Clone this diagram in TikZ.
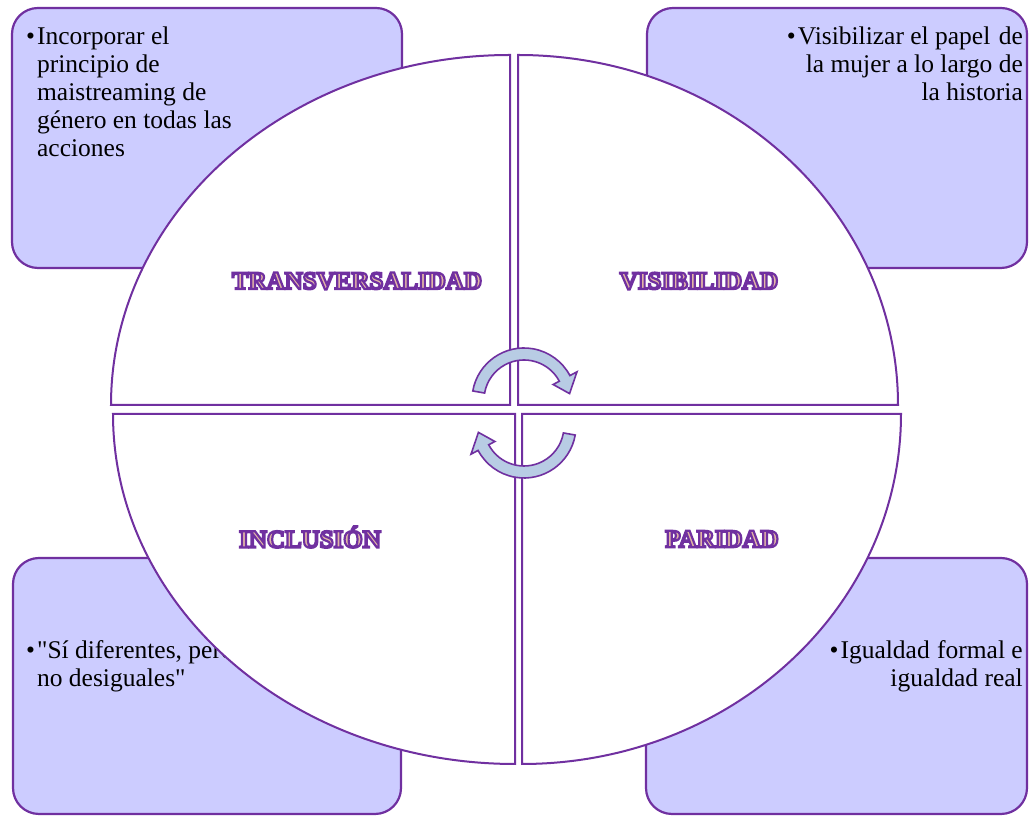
\documentclass[tikz,border=0pt]{standalone}
\usepackage{fontspec}
\setmainfont{Liberation Serif}
\usepackage{xcolor}
\usepackage{tikz}
\usetikzlibrary{calc}
\definecolor{cyclepurple}{RGB}{112,48,160}
\definecolor{lavender}{RGB}{204,204,255}
\definecolor{arrowblue}{RGB}{184,204,228}
\definecolor{titlepeach}{RGB}{226,182,165}

\tikzset{
    cornerbox/.style={draw=cyclepurple, line width=2.2pt, rounded corners=26pt, fill=lavender},
    quarter/.style={draw=cyclepurple, line width=2pt, fill=white},
    boxtext/.style={inner sep=0pt, font=\fontsize{25.5}{28}\selectfont},
    quartertitle/.style={inner sep=0pt, font=\fontsize{25}{28}\selectfont\bfseries},
    cyclearrow/.style={draw=cyclepurple, line width=1.6pt, fill=arrowblue}
}

% outlined title: peach fill, purple stroke
\newcommand{\cycletitle}[1]{\textcolor{titlepeach}{%
    \special{pdf:literal direct 0.439 0.188 0.627 RG 2 Tr 2.2 w}#1%
    \special{pdf:literal direct 0 Tr}}}
\newcommand{\dotgap}{\textbullet\kern2pt}

\begin{document}
\begin{tikzpicture}[x=1pt, y=1pt]

    \useasboundingbox (0,0) rectangle (1029,816);

    % Corner boxes
    \draw[cornerbox] (12,548) rectangle (402,808);
    \draw[cornerbox] (647,548) rectangle (1027,808);
    \draw[cornerbox] (13,2) rectangle (401,258);
    \draw[cornerbox] (646,2) rectangle (1027,258);

    % Box texts
    \node[boxtext, anchor=north west, align=left] (tlText) at (26,789)
    {
        \dotgap Incorporar el\\
        \phantom{\dotgap}principio de\\
        \phantom{\dotgap}maistreaming de\\
        \phantom{\dotgap}género en todas las\\
        \phantom{\dotgap}acciones
    };
    \node[boxtext, anchor=north east, align=right] (trText) at (1023,789)
    {
        \dotgap Visibilizar el papel\hspace{2pt} de\\
        la mujer a lo largo de\\
        la historia
    };
    \node[boxtext, anchor=north west, align=left] (blText) at (26,176)
    {
        \dotgap\textquotedbl Sí diferentes, pero\\
        \phantom{\dotgap}no desiguales\textquotedbl
    };
    \node[boxtext, anchor=north east, align=right] (brText) at (1023,176)
    {
        \dotgap Igualdad\hspace{1pt} formal e\\
        igualdad real
    };

    % Four quarters of the cycle
    \draw[quarter] (510,411) -- (111,411)
        arc[start angle=180, end angle=90, x radius=399, y radius=350] -- cycle;
    \draw[quarter] (518,411) -- (518,761)
        arc[start angle=90, end angle=0, x radius=380, y radius=350] -- cycle;
    \draw[quarter] (515,402) -- (113,402)
        arc[start angle=180, end angle=270, x radius=402, y radius=350] -- cycle;
    \draw[quarter] (522,402) -- (522,52)
        arc[start angle=270, end angle=360, x radius=379, y radius=350] -- cycle;

    % Quarter titles
    \node[quartertitle] (transversalidad) at (357,535) {\cycletitle{TRANSVERSALIDAD}};
    \node[quartertitle] (visibilidad) at (699,535) {\cycletitle{VISIBILIDAD}};
    \node[quartertitle] (inclusion) at (310,279) {\cycletitle{INCLUSIÓN}};
    \node[quartertitle] (paridad) at (722,277) {\cycletitle{PARIDAD}};

    % Turning arrows
    \foreach \turn in {0,180}{
        \begin{scope}[rotate around={\turn:(524,403)}, shift={(524,416)}]
            \draw[cyclearrow] (170:52) arc[start angle=170, end angle=28, radius=52]
                -- (28:60) -- (8:46) -- (28:33) -- (28:40)
                arc[start angle=28, end angle=170, radius=40] -- cycle;
        \end{scope}
    }

\end{tikzpicture}
\end{document}
